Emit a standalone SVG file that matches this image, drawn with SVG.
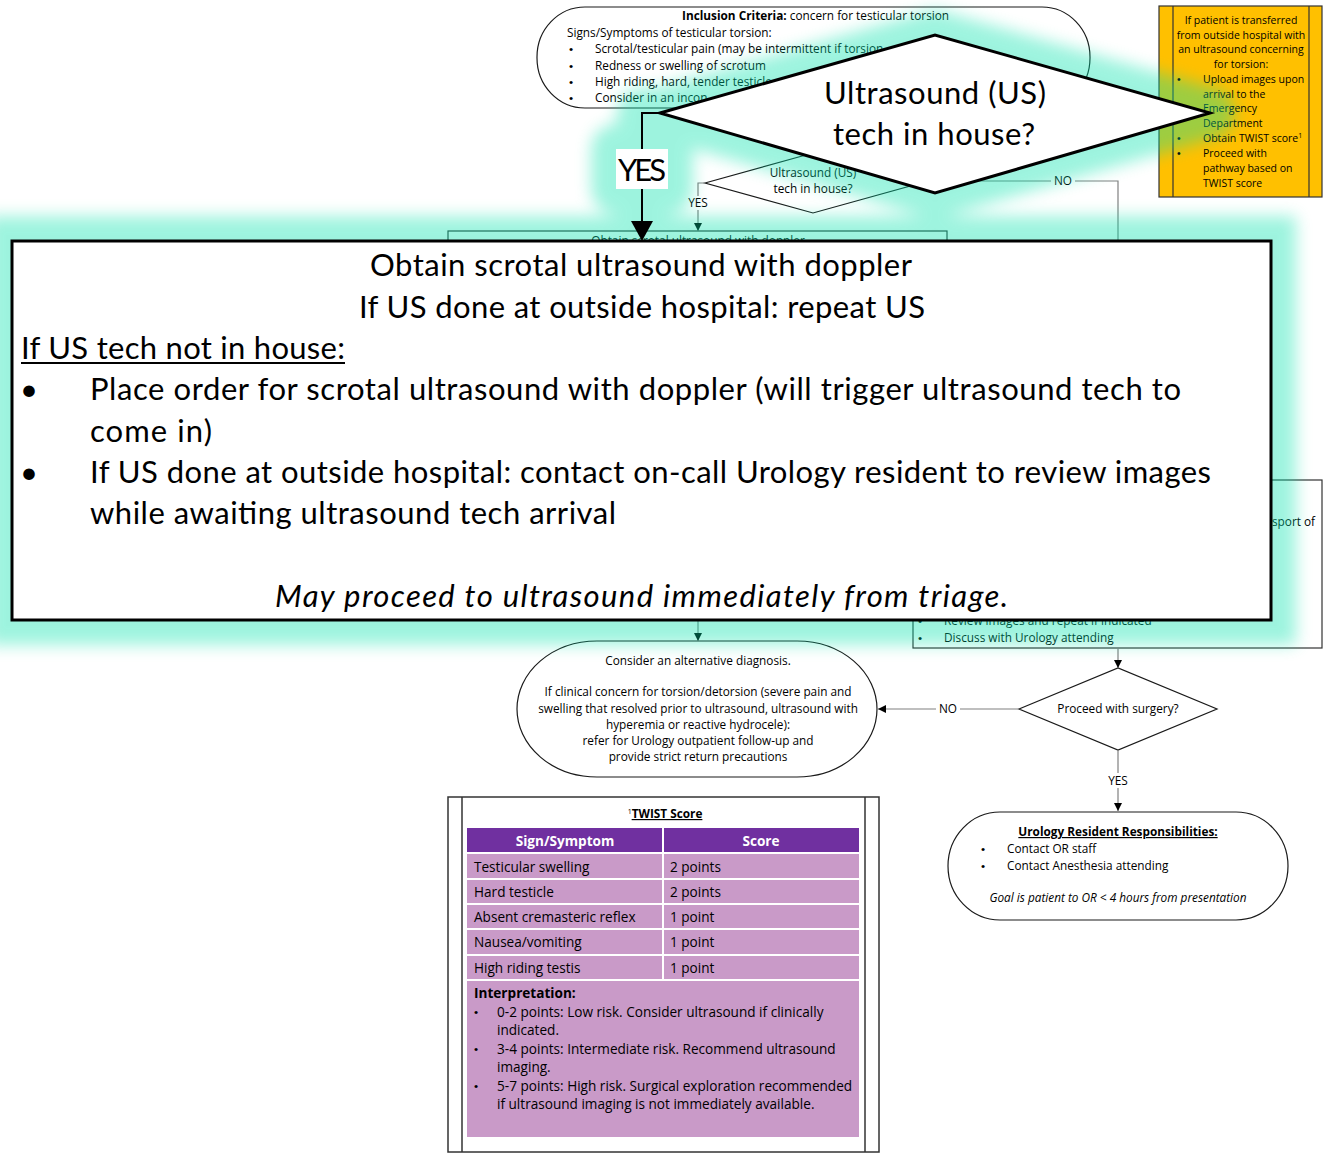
<svg xmlns="http://www.w3.org/2000/svg" width="1324" height="1153" viewBox="0 0 1324 1153">
<defs>
  <marker id="arr" viewBox="0 0 10 10" refX="10" refY="5" markerWidth="8" markerHeight="8" markerUnits="userSpaceOnUse" orient="auto">
    <path d="M0,0 L10,5 L0,10 z" fill="#000"/>
  </marker>
  <filter id="halo" x="-10%" y="-20%" width="120%" height="140%">
    <feGaussianBlur stdDeviation="8"/>
  </filter>
  <clipPath id="aboveCallout">
    <rect x="0" y="0" width="1324" height="241"/>
  </clipPath>
</defs>
<style>
  text { font-family: "Open Sans", "Liberation Sans", sans-serif; fill: #000; }
  .s10 { font-size: 10.5px; }
  .s11 { font-size: 11.8px; }
  .s13 { font-size: 13.6px; }
  .dot { font-family: "Liberation Sans", sans-serif; }
  .mid { text-anchor: middle; }
  .b { font-weight: bold; }
  .i { font-style: italic; }
  .term { fill: #fff; stroke: #1a1a1a; stroke-width: 1.2; }
  .box { fill: #fff; stroke: #333; stroke-width: 1.2; }
  .conn { fill: none; stroke: #808080; stroke-width: 1.2; }
  .lbl { fill: #fff; }
  .big { font-family: Lato, "Liberation Sans", sans-serif; font-size: 31px; }
  .bigshape { fill: #fff; stroke: #000; stroke-width: 3; }
  .glow * { fill: #00e2aa; stroke: #00e2aa; stroke-width: 50; stroke-linejoin: round; stroke-linecap: round; }
</style>

<!-- base flowchart -->
<g id="inclusion">
  <rect class="term" x="537" y="7" width="553" height="101" rx="48" ry="50"/>
  <text class="s11" x="682" y="20"><tspan class="b">Inclusion Criteria:</tspan> concern for testicular torsion</text>
  <text class="s11" x="567" y="37">Signs/Symptoms of testicular torsion:</text>
  <text class="s11 dot" x="569" y="53">•</text>
  <text class="s11 dot" x="569" y="70">•</text>
  <text class="s11 dot" x="569" y="86">•</text>
  <text class="s11 dot" x="569" y="102">•</text>
  <text class="s11" x="595" y="53">Scrotal/testicular pain (may be intermittent if torsion</text>
  <text class="s11" x="595" y="70">Redness or swelling of scrotum</text>
  <text class="s11" x="595" y="86">High riding, hard, tender testicle</text>
  <text class="s11" x="595" y="102">Consider in an incon</text>
</g>

<g id="transfer">
  <rect x="1159" y="6" width="163" height="191" fill="#ffc000" stroke="#333" stroke-width="1.2"/>
  <line x1="1173" y1="6" x2="1173" y2="197" stroke="#333" stroke-width="1.2"/>
  <line x1="1309" y1="6" x2="1309" y2="197" stroke="#333" stroke-width="1.2"/>
  <text class="s10 mid" x="1241" y="24">If patient is transferred</text>
  <text class="s10 mid" x="1241" y="39">from outside hospital with</text>
  <text class="s10 mid" x="1241" y="53">an ultrasound concerning</text>
  <text class="s10 mid" x="1241" y="68">for torsion:</text>
  <text class="s10 dot" x="1177" y="83">•</text>
  <text class="s10 dot" x="1177" y="142">•</text>
  <text class="s10 dot" x="1177" y="157">•</text>
  <text class="s10" x="1203" y="83">Upload images upon</text>
  <text class="s10" x="1203" y="98">arrival to the</text>
  <text class="s10" x="1203" y="112">Emergency</text>
  <text class="s10" x="1203" y="127">Department</text>
  <text class="s10" x="1203" y="142">Obtain TWIST score<tspan font-size="7" dy="-4">1</tspan></text>
  <text class="s10" x="1203" y="157">Proceed with</text>
  <text class="s10" x="1203" y="172">pathway based on</text>
  <text class="s10" x="1203" y="187">TWIST score</text>
</g>

<g id="us-tech">
  <polygon class="term" points="705,183 813,153 921,183 813,213"/>
  <text class="s11 mid" x="813" y="177">Ultrasound (US)</text>
  <text class="s11 mid" x="813" y="193">tech in house?</text>
</g>

<g id="obtain-us">
  <rect class="box" x="448" y="231" width="499" height="380"/>
  <text class="s11 mid" x="698" y="245" clip-path="url(#aboveCallout)">Obtain scrotal ultrasound with doppler</text>
</g>

<g id="urology-review">
  <rect class="box" x="913" y="480" width="409" height="168"/>
  <text class="s11" x="1272" y="526">sport of</text>
  <text class="s11 dot" x="918" y="625">•</text>
  <text class="s11 dot" x="918" y="642">•</text>
  <text class="s11" x="944" y="625">Review images and repeat if indicated</text>
  <text class="s11" x="944" y="642">Discuss with Urology attending</text>
</g>

<g id="surgery">
  <polygon class="term" points="1019,709 1118,668 1217,709 1118,750"/>
  <text class="s11 mid" x="1118" y="713">Proceed with surgery?</text>
</g>

<g id="alternative">
  <rect class="term" x="517" y="641" width="360" height="136" rx="80" ry="68"/>
  <text class="s11 mid" x="698" y="665">Consider an alternative diagnosis.</text>
  <text class="s11 mid" x="698" y="696">If clinical concern for torsion/detorsion (severe pain and</text>
  <text class="s11 mid" x="698" y="713">swelling that resolved prior to ultrasound, ultrasound with</text>
  <text class="s11 mid" x="698" y="729">hyperemia or reactive hydrocele):</text>
  <text class="s11 mid" x="698" y="745">refer for Urology outpatient follow-up and</text>
  <text class="s11 mid" x="698" y="761">provide strict return precautions</text>
</g>

<g id="resident">
  <rect class="term" x="948" y="812" width="340" height="108" rx="52" ry="54"/>
  <text class="s11 mid b" x="1118" y="836" text-decoration="underline">Urology Resident Responsibilities:</text>
  <text class="s11 dot" x="981" y="853">•</text>
  <text class="s11 dot" x="981" y="870">•</text>
  <text class="s11" x="1007" y="853">Contact OR staff</text>
  <text class="s11" x="1007" y="870">Contact Anesthesia attending</text>
  <text class="s11 mid i" x="1118" y="902">Goal is patient to OR &lt; 4 hours from presentation</text>
</g>

<g id="twist">
  <rect x="448" y="797" width="431" height="355" fill="#fff" stroke="#333" stroke-width="1.5"/>
  <line x1="462" y1="797" x2="462" y2="1152" stroke="#333" stroke-width="1.5"/>
  <line x1="865" y1="797" x2="865" y2="1152" stroke="#333" stroke-width="1.5"/>
  <text class="s11 mid" x="665" y="818"><tspan font-size="7" dy="-4">1</tspan><tspan class="b" dy="4" text-decoration="underline">TWIST Score</tspan></text>
  <rect x="467" y="828" width="392" height="25" fill="#7030a0"/>
  <rect x="467" y="853" width="392" height="284" fill="#c99ac8"/>
  <g stroke="#fff" stroke-width="2">
    <line x1="467" y1="853" x2="859" y2="853"/>
    <line x1="467" y1="879" x2="859" y2="879"/>
    <line x1="467" y1="904" x2="859" y2="904"/>
    <line x1="467" y1="929" x2="859" y2="929"/>
    <line x1="467" y1="955" x2="859" y2="955"/>
    <line x1="467" y1="980" x2="859" y2="980"/>
    <line x1="663" y1="828" x2="663" y2="980"/>
  </g>
  <text class="s13 mid b" x="565" y="846" style="fill:#fff">Sign/Symptom</text>
  <text class="s13 mid b" x="761" y="846" style="fill:#fff">Score</text>
  <text class="s13" x="474" y="872">Testicular swelling</text>
  <text class="s13" x="670" y="872">2 points</text>
  <text class="s13" x="474" y="897">Hard testicle</text>
  <text class="s13" x="670" y="897">2 points</text>
  <text class="s13" x="474" y="922">Absent cremasteric reflex</text>
  <text class="s13" x="670" y="922">1 point</text>
  <text class="s13" x="474" y="947">Nausea/vomiting</text>
  <text class="s13" x="670" y="947">1 point</text>
  <text class="s13" x="474" y="973">High riding testis</text>
  <text class="s13" x="670" y="973">1 point</text>
  <text class="s13 b" x="474" y="998">Interpretation:</text>
  <text class="s11 dot" x="474" y="1016">•</text>
  <text class="s11 dot" x="474" y="1053">•</text>
  <text class="s11 dot" x="474" y="1090">•</text>
  <text class="s13" x="497" y="1017">0-2 points: Low risk. Consider ultrasound if clinically</text>
  <text class="s13" x="497" y="1035">indicated.</text>
  <text class="s13" x="497" y="1054">3-4 points: Intermediate risk. Recommend ultrasound</text>
  <text class="s13" x="497" y="1072">imaging.</text>
  <text class="s13" x="497" y="1091">5-7 points: High risk. Surgical exploration recommended</text>
  <text class="s13" x="497" y="1109">if ultrasound imaging is not immediately available.</text>
</g>

<g id="connectors">
  <path class="conn" d="M921,181 H1118 V480" marker-end="url(#arr)"/>
  <rect class="lbl" x="1051" y="174" width="24" height="14"/>
  <text class="s11 mid" x="1063" y="185">NO</text>
  <path class="conn" d="M705,183 H698 V231" marker-end="url(#arr)"/>
  <rect class="lbl" x="685" y="196" width="26" height="14"/>
  <text class="s11 mid" x="698" y="207">YES</text>
  <path class="conn" d="M698,611 V641" marker-end="url(#arr)"/>
  <path class="conn" d="M1118,648 V668" marker-end="url(#arr)"/>
  <path class="conn" d="M1019,709 H878" marker-end="url(#arr)"/>
  <rect class="lbl" x="936" y="702" width="24" height="14"/>
  <text class="s11 mid" x="948" y="713">NO</text>
  <path class="conn" d="M1118,750 V811" marker-end="url(#arr)"/>
  <rect class="lbl" x="1104" y="773" width="28" height="15"/>
  <text class="s11 mid" x="1118" y="785">YES</text>
</g>

<!-- magnified callouts with halo -->
<g opacity="0.38">
  <g class="glow" filter="url(#halo)">
    <rect x="12" y="241" width="1259" height="379" style="stroke-linejoin:miter"/>
    <polygon points="660,113 935,35 1210,113 935,193"/>
    <path d="M660,113 H642 V241" style="fill:none"/>
    <rect x="616" y="149" width="52" height="40"/>
  </g>
</g>

<g id="callout-question">
  <polygon class="bigshape" points="660,113 935,35 1210,113 935,193"/>
  <text class="big" x="824" y="104" textLength="222">Ultrasound (US)</text>
  <text class="big" x="833" y="145" textLength="202">tech in house?</text>
  <path d="M660,113 H642 V222" fill="none" stroke="#000" stroke-width="2"/>
  <polygon points="631,221 653,221 642,241" fill="#000"/>
  <rect x="616" y="149" width="52" height="40" fill="#fff"/>
  <text class="big" x="618" y="181" textLength="48">YES</text>
</g>

<g id="callout-ultrasound">
  <rect class="bigshape" x="12" y="241" width="1259" height="379"/>
  <text class="big" x="370" y="276" textLength="542">Obtain scrotal ultrasound with doppler</text>
  <text class="big" x="359" y="318" textLength="566">If US done at outside hospital: repeat US</text>
  <text class="big" x="21" y="359" textLength="324">If US tech not in house:</text>
  <line x1="21" y1="363" x2="345" y2="363" stroke="#000" stroke-width="2"/>
  <text class="big" x="20" y="400">•</text>
  <text class="big" x="90" y="400" textLength="1091">Place order for scrotal ultrasound with doppler (will trigger ultrasound tech to</text>
  <text class="big" x="90" y="442" textLength="122">come in)</text>
  <text class="big" x="20" y="483">•</text>
  <text class="big" x="90" y="483" textLength="1121">If US done at outside hospital: contact on-call Urology resident to review images</text>
  <text class="big" x="90" y="524" textLength="526">while awaiting ultrasound tech arrival</text>
  <text class="big i" x="275" y="607" textLength="733">May proceed to ultrasound immediately from triage.</text>
</g>
</svg>
